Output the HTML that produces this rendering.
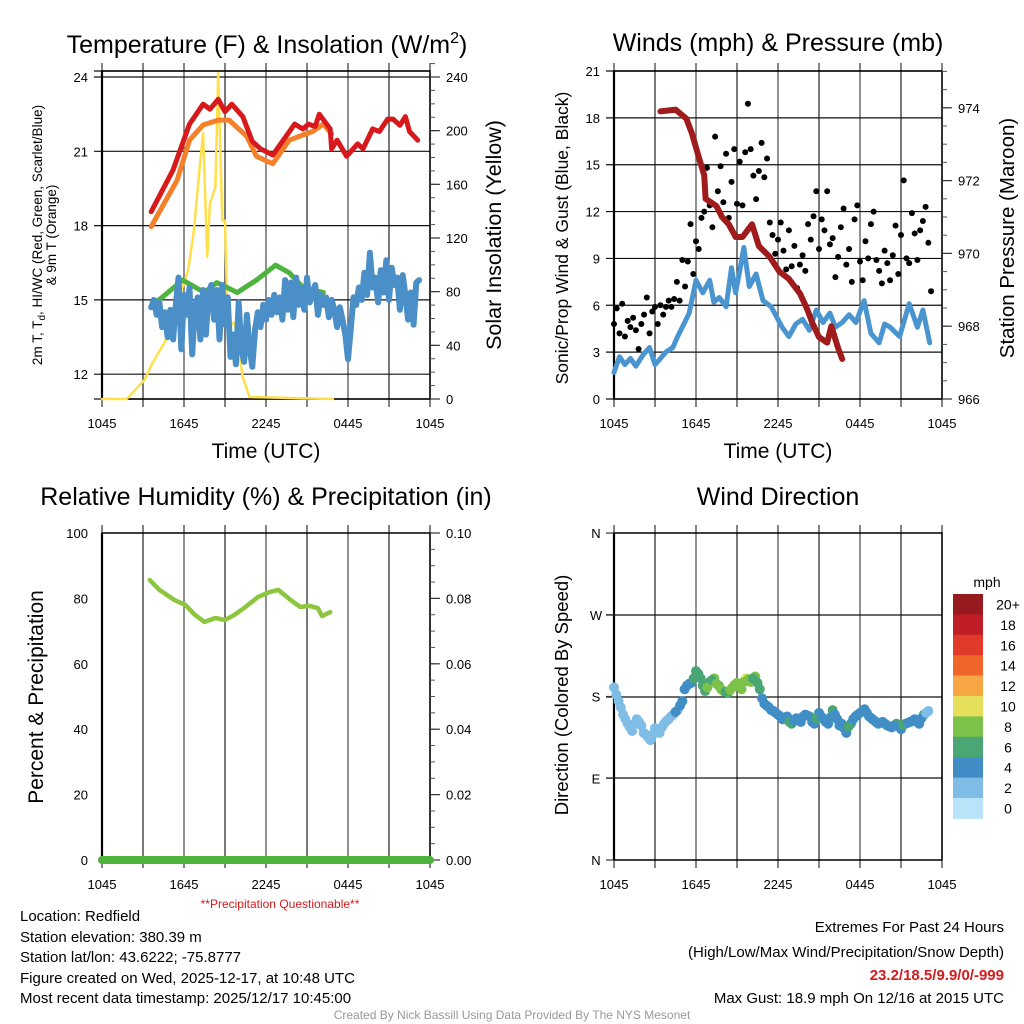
<!DOCTYPE html>
<html><head><meta charset="utf-8"><style>
html,body{margin:0;padding:0;background:#fff;}
svg{display:block;font-family:"Liberation Sans",Arial,sans-serif;}
</style></head><body>
<svg id="c" width="1024" height="1024" viewBox="0 0 1024 1024" xmlns="http://www.w3.org/2000/svg">
<rect width="1024" height="1024" fill="#fff"/>
<text x="267" y="53" font-size="25" text-anchor="middle">Temperature (F) &amp; Insolation (W/m<tspan dy="-10" font-size="16">2</tspan><tspan dy="10">)</tspan></text>
<text x="778" y="51" font-size="25" text-anchor="middle">Winds (mph) &amp; Pressure (mb)</text>
<text x="266" y="505" font-size="25" text-anchor="middle">Relative Humidity (%) &amp; Precipitation (in)</text>
<text x="778" y="505" font-size="25" text-anchor="middle">Wind Direction</text>
<text x="266" y="458" font-size="21" text-anchor="middle">Time (UTC)</text>
<text x="778" y="458" font-size="21" text-anchor="middle">Time (UTC)</text>
<text transform="translate(42,235) rotate(-90)" font-size="13.5" text-anchor="middle">2m T, T<tspan font-size="10" dy="3">d</tspan><tspan dy="-3">, HI/WC (Red, Green, Scarlet/Blue)</tspan></text>
<text transform="translate(56,235) rotate(-90)" font-size="13.5" text-anchor="middle">&amp; 9m T (Orange)</text>
<text transform="translate(501,235) rotate(-90)" font-size="21.5" text-anchor="middle">Solar Insolation (Yellow)</text>
<text transform="translate(568,238) rotate(-90)" font-size="17.5" text-anchor="middle">Sonic/Prop Wind &amp; Gust (Blue, Black)</text>
<text transform="translate(1014,238) rotate(-90)" font-size="20.5" text-anchor="middle">Station Pressure (Maroon)</text>
<text transform="translate(43,697) rotate(-90)" font-size="21" text-anchor="middle">Percent &amp; Precipitation</text>
<text transform="translate(568,695) rotate(-90)" font-size="18.5" text-anchor="middle">Direction (Colored By Speed)</text>
<text x="280" y="908" font-size="12" fill="#d7191c" text-anchor="middle">**Precipitation Questionable**</text>
<text x="987" y="587" font-size="14" text-anchor="middle">mph</text>
<g font-size="15">
<text x="20" y="921">Location: Redfield</text>
<text x="20" y="942">Station elevation: 380.39 m</text>
<text x="20" y="962">Station lat/lon: 43.6222; -75.8777</text>
<text x="20" y="983">Figure created on Wed, 2025-12-17, at 10:48 UTC</text>
<text x="20" y="1003">Most recent data timestamp: 2025/12/17 10:45:00</text>
</g>
<g font-size="15" text-anchor="end">
<text x="1004" y="932">Extremes For Past 24 Hours</text>
<text x="1004" y="957">(High/Low/Max Wind/Precipitation/Snow Depth)</text>
<text x="1004" y="980" fill="#d7191c" font-weight="bold">23.2/18.5/9.9/0/-999</text>
<text x="1004" y="1003">Max Gust: 18.9 mph On 12/16 at 2015 UTC</text>
</g>
<text x="512" y="1019" font-size="12" fill="#999" text-anchor="middle">Created By Nick Bassill Using Data Provided By The NYS Mesonet</text>
</svg>
<script>
// ---- data ----
const xTickLabels = ["1045","1645","2245","0445","1045"];
const tempTicks = [24,21,18,15,12];
const insolTicks = [240,200,160,120,80,40,0];
const windTicks = [21,18,15,12,9,6,3,0];
const presTicks = [974,972,970,968,966];
const rhTicks = [100,80,60,40,20,0];
const precipTicks = ["0.10","0.08","0.06","0.04","0.02","0.00"];
const dirTickLabels = ["N","W","S","E","N"];
const dirTickVals = [360,270,180,90,0];

const redT = [3.6,5.2,6.4,7.4,7.9,8.5,9.0,9.5,10.3,11.0,11.6,12.5,13.2,14.1,14.7,15.1,15.6,15.9,16.7,16.8,17.2,17.9,18.7,19.1,19.8,20.3,20.9,21.3,21.8,22.2,22.5,23.1];
const redV = [18.56,20.25,22.1,22.9,22.7,23.1,22.6,22.9,22.4,21.4,21.1,20.85,21.4,22.1,21.9,22.1,22.0,22.5,21.9,21.1,21.45,20.8,21.3,21.1,21.9,21.8,22.3,22.3,22.05,22.4,21.8,21.45];
const orangeT = [3.6,5.5,6.4,7.4,8.5,9.3,10.6,11.3,12.5,13.7,14.7,15.4,16.2,16.8];
const orangeV = [17.96,19.84,21.45,22.06,22.26,22.26,21.6,20.8,20.5,21.45,21.66,21.8,22.1,21.7];
const greenT = [3.65,4.4,5.9,7.5,8.4,9.9,11.3,12.7,13.7,14.7,16.2];
const greenV = [14.8,15.1,15.8,15.3,15.7,15.3,15.8,16.4,16.1,15.5,15.3];
const dewStart = 3.6, dewStep = 0.2;
const dewV = [14.7,15.0,14.4,14.9,13.9, 14.5,13.5,14.6,13.4,14.8, 15.9,13.0,15.2,14.4,15.5, 12.8,14.7,15.1,13.4,15.4, 13.6,15.3,15.6,14.2,15.4, 13.4,15.6,14.0,15.1,12.7, 13.6,12.4,14.9,13.0,12.5, 14.4,13.0,12.3,13.8,14.5, 13.9,14.8,14.2,15.0,14.4, 15.2,14.5,15.1,14.2,15.8, 14.6,15.7,14.3,15.9,14.8, 15.5,14.6,15.9,14.9,15.3, 15.6,14.4,15.2,14.8,15.1, 14.3,15.0,14.6,13.9,14.7, 14.2,13.6,12.6,13.8,15.1, 14.8,15.5,15.0,16.1,15.2, 16.9,15.5,15.9,14.9,16.2, 15.3,16.6,15.0,16.3,15.6, 15.9,14.6,16.0,15.2,14.2, 15.3,14.0,15.7,15.8];
const insolT = [0,1.8,3.1,3.7,4.8,5.6,6.3,6.7,7.2,7.4,7.7,7.9,8.3,8.5,8.8,9.0,9.2,9.7,10.3,10.8,16.9];
const insolV = [0,0,14,27,46,74,96,124,178,198,106,146,158,243,133,133,54,57,16,1.5,0];

const windT = [0,0.4,0.8,1.2,1.6,2.1,2.6,3.0,3.3,3.8,4.3,4.6,5.0,5.5,6.0,6.5,7.0,7.3,7.7,8.2,8.6,8.9,9.2,9.5,9.9,10.4,10.9,11.5,12.3,12.8,13.3,13.8,14.3,14.8,15.3,15.8,16.2,16.7,17.2,17.7,18.3,18.8,19.4,19.8,20.2,20.9,21.6,22.2,22.6,23.1];
const windV = [1.7,2.7,2.2,2.6,2.1,2.8,3.3,2.2,2.5,3.0,3.3,3.9,4.6,5.5,7.6,6.8,7.6,6.2,6.5,5.9,8.4,6.8,8.2,9.7,7.2,8.0,6.3,5.9,4.6,4.0,4.8,5.1,4.4,5.7,4.9,5.5,4.6,4.9,5.4,4.9,6.3,4.2,3.6,4.8,4.6,4.0,6.1,4.6,5.7,3.6];
const gustStart = 0, gustStep = 0.2;
const gustV = [4.8,5.8,4.2,6.1,4.0, 5.0,4.6,5.2,4.4,3.2, 4.8,5.4,6.5,4.2,5.6, 5.9,4.8,6.0,5.4,5.9, 6.3,5.9,6.4,7.5,6.3, 8.9,7.2,8.8,11.2,8.0, 10.1,9.6,11.6,12.0,14.8, 12.4,11.0,16.8,13.3,14.9, 12.6,15.7,11.6,13.9,16.0, 12.5,15.2,12.4,15.8,18.9, 16.0,14.3,12.8,14.6,16.4, 14.2,15.4,11.3,10.5,9.3, 10.2,11.3,9.5,8.3,10.8, 8.5,9.8,7.1,8.6,9.2, 8.2,11.2,10.2,11.7,13.3, 9.6,11.5,10.8,13.3,9.9, 10.3,7.8,9.1,11.0,12.2, 8.6,9.6,7.5,11.5,12.4, 8.8,7.6,10.1,9.0,11.2, 12.0,8.9,8.2,7.4,9.5, 8.7,7.6,9.2,11.1,8.0, 10.5,14.0,9.0,8.7,11.9, 10.6,8.9,10.8,11.4,12.3, 10.0,6.9];
const presT = [3.4,4.5,5.3,5.7,6.2,6.6,6.7,7.5,7.9,8.4,8.9,9.4,10.1,10.6,11.4,12.1,12.8,13.6,14.1,14.5,15.0,15.6,15.9,16.4,16.7];
const presV = [973.9,973.95,973.7,973.3,972.65,972.15,971.5,971.3,971.0,970.8,970.45,970.45,970.8,970.2,969.9,969.5,969.3,968.9,968.5,968.1,967.7,967.55,968.0,967.4,967.1];

const rhT = [3.5,4.2,5.3,6.1,6.8,7.5,8.3,9.0,9.7,10.5,11.4,12.3,12.9,13.8,14.5,15.2,15.8,16.1,16.7];
const rhV = [85.6,82.6,79.5,78,75,72.8,74,73.4,75,77.4,80.4,82,82.6,79.5,77.4,77.7,77,74.6,75.8];
const precipT = [0,24];
const precipV = [0,0];

const dirStart = 0, dirStep = 1/3;
const dirV = [190,175,160,150,142,155,148,138,132,145,140,150,155,160,165,175,192,195,208,200,186,196,200,192,186,184,190,195,188,200,196,202,188,172,168,164,160,155,158,150,156,152,160,158,150,162,155,150,165,155,150,140,150,158,162,166,158,154,150,152,148,146,150,144,150,152,155,150,160,164];
const speedV = [2.5,2.8,3,2.6,3.2,2.4,2.8,3,2.5,2.7,3.1,3.5,3.8,3.6,3.9, 4.5,4.8,5.2, 6.5,7,7.5,6.8,8.2,7.5,8.5,7.8,8.6,9,8.2,10.2,8.5,8.8,7.2, 5.5,4.8,5,4.5,5.2,4.6,6.2,5,4.6,4.8,6.4,4.5,5,5.2,4.4,6.1,4.7,4.9,4.5,5,4.8,6.3,4.6,5,4.4,4.5,4.8,5.2,4.6,6.6,4.5,4.7,5.1,4.4,4.9,6.2,3.5];
const dir2Start = 1/6, dir2Step = 1/3;
const dirV2 = [182,168,155,146,150,152,140,135,138,142,146,153,158,163,170,188,194,200,205,192,190,198,194,188,185,187,193,191,196,199,200,195,178,170,165,162,158,157,152,153,155,158,159,152,156,158,152,157,160,148,145,147,155,160,164,162,156,152,151,150,147,148,147,149,151,153,152,156,162];
const speedV2 = [2.6,3.0,2.7,2.9,3.3,2.5,2.9,2.4,2.8,3.2,3.4,3.7,3.9,4.2,4.4, 4.6,5.0,6.3, 7.2,6.6,8.4,7.8,9.1,8.0,7.4,8.9,9.5,8.3,8.7,9.2,7.6,6.8,5.8, 5.2,4.7,4.9,5.4,4.5,6.5,4.8,5.1,4.6,5.0,4.7,6.2,4.9,4.4,5.3,4.6,4.8,5.0,6.1,4.5,4.7,5.2,4.8,4.6,5.0,4.4,4.9,4.7,5.3,4.5,6.3,4.6,4.8,4.4,5.0,3.8];
const cbLabels = ["20+","18","16","14","12","10","8","6","4","2","0"];
const cbColors = ["#971b1e","#bf1e26","#df3a2a","#f0652a","#f6a744","#e6df5c","#7cc24a","#4aa774","#418ec6","#7fbde6","#b8e3f8"];

// ---- drawing ----
const svg = document.getElementById('c');
const NS = 'http://www.w3.org/2000/svg';
function mk(tag, attrs, parent){ const e=document.createElementNS(NS,tag); for(const k in attrs) e.setAttribute(k,attrs[k]); (parent||svg).appendChild(e); return e; }
function txt(x,y,s,size,anchor,parent){ const t=mk('text',{x:x,y:y,'font-size':size,'text-anchor':anchor},parent); t.textContent=s; return t; }

function xScale(x0,x1){ return h => x0 + h*(x1-x0)/24; }
const PA = {x0:102,x1:430,top:71,bot:399};
const PB = {x0:614,x1:942,top:71,bot:399};
const PC = {x0:102,x1:430,top:533,bot:860};
const PD = {x0:614,x1:942,top:533,bot:860};
const xA = xScale(PA.x0,PA.x1), xB = xScale(PB.x0,PB.x1), xC = xScale(PC.x0,PC.x1), xD = xScale(PD.x0,PD.x1);
const yT = t => 77 + (24-t)*74.3/3;
const yI = i => 399 - i*322/240;
const yW = v => 399 - v*(328/21);
const yP = p => 399 - (p-966)*36.4;
const yR = r => 860 - r*3.27;
const yPr = p => 860 - p*3270;
const yD = d => 860 - d*327/360;

function frame(P, xs, name, hgrid){
  const g = mk('g',{});
  
  
  for(let i=0;i<=8;i++){
    const x = xs(i*3);
    const l = mk('line',{x1:x,y1:P.top,x2:x,y2:P.bot,stroke:(i%2? '#333':'#555'),'stroke-width':1.3},g);
    
    
    mk('line',{x1:x,y1:P.bot,x2:x,y2:P.bot+8,stroke:'#333','stroke-width':1.2},g);
    mk('line',{x1:x,y1:P.top,x2:x,y2:P.top-8,stroke:'#333','stroke-width':1.2},g);
  }
  hgrid.forEach(y=>{
    const l = mk('line',{x1:P.x0-8,y1:y,x2:P.x1,y2:y,stroke:'#111','stroke-width':1.2},g);
    
    
  });
  mk('rect',{x:P.x0,y:P.top,width:P.x1-P.x0,height:P.bot-P.top,fill:'none',stroke:'#000','stroke-width':1.5},g);
  mk('line',{x1:P.x0,y1:P.top,x2:P.x0,y2:P.bot,stroke:'#000','stroke-width':2.2},g);
  xTickLabels.forEach((s,i)=>{
    const t = txt(xs(i*6), P.bot+29, s, 13, 'middle', g);
    
    
  });
  return g;
}
function leftTicks(vals, ys, P, fmt, name){
  vals.forEach(v=>{
    const t = txt(P.x0-14, ys(v)+5, fmt(v), 13, 'end');
    
    
  });
}
function rightTicks(vals, ys, P, fmt, name, minorVals){
  minorVals.forEach(v=>{ mk('line',{x1:P.x1,y1:ys(v),x2:P.x1+5,y2:ys(v),stroke:'#555','stroke-width':1}); });
  vals.forEach(v=>{
    mk('line',{x1:P.x1,y1:ys(v),x2:P.x1+10,y2:ys(v),stroke:'#333','stroke-width':1.2});
    const t = txt(P.x1+16, ys(v)+5, fmt(v), 13, 'start');
    
    
  });
}
function path(ts, vs, xs, ys, color, w, name){
  let d=''; ts.forEach((t,i)=>{ d += (i?'L':'M')+xs(t).toFixed(1)+' '+ys(vs[i]).toFixed(1); });
  const p = mk('path',{d:d,fill:'none',stroke:color,'stroke-width':w,'stroke-linejoin':'round','stroke-linecap':'round'});
  
  
  return p;
}

// Panel A
frame(PA, xA, 'temp', [PA.top].concat(tempTicks.map(yT)).concat([PA.bot]));
leftTicks(tempTicks, yT, PA, v=>v, 'temp-y');
const insMinor=[]; for(let v=0; v<=250; v+=10) insMinor.push(v);
rightTicks(insolTicks, yI, PA, v=>v, 'insolation-y', insMinor);
path(insolT, insolV, xA, yI, '#ffe04a', 2.5, 'insolation-line');
path(greenT, greenV, xA, yT, '#4db33d', 5, 'heat-index-line');
const dewT = dewV.map((v,i)=>dewStart + i*dewStep);
path(dewT, dewV, xA, yT, '#4a8fc8', 6, 'dewpoint-line');
path(orangeT, orangeV, xA, yT, '#f4802a', 5, 'temp-9m-line');
path(redT, redV, xA, yT, '#d7191c', 5, 'temp-2m-line');

// Panel B
frame(PB, xB, 'wind', windTicks.map(yW));
leftTicks(windTicks, yW, PB, v=>v, 'wind-y');
const pMinor=[]; for(let p=966; p<=975; p+=0.5) pMinor.push(p);
rightTicks(presTicks, yP, PB, v=>v, 'pressure-y', pMinor);
path(windT, windV, xB, yW, '#4a95d0', 5, 'sonic-wind-line');
gustV.forEach((v,i)=>{
  const c = mk('circle',{cx:xB(gustStart+i*gustStep),cy:yW(v),r:3,fill:'#000'});
  
  
});
path(presT, presV, xB, yP, '#a01c1c', 6, 'pressure-line');

// Panel C
frame(PC, xC, 'rh', []);
leftTicks(rhTicks, yR, PC, v=>v, 'rh-y');
const prMinor=[]; for(let i=0;i<=20;i++) prMinor.push(i*0.005);
rightTicks([0.10,0.08,0.06,0.04,0.02,0.00], yPr, PC, v=>precipTicks[5-Math.round(v*50)], 'precip-y', prMinor);
path(precipT, precipV, xC, yPr, '#4db33d', 8, 'precip-line');
path(rhT, rhV, xC, yR, '#8cc63f', 4.5, 'rh-line');

// Panel D
frame(PD, xD, 'wdir', [615,697,778]);
dirTickVals.forEach((v,i)=>{
  mk('line',{x1:PD.x0-8,y1:yD(v),x2:PD.x0,y2:yD(v),stroke:'#333','stroke-width':1.2});
  const t = txt(PD.x0-18, yD(v)+5, dirTickLabels[i], 13, 'middle');
  
  
});
function dirDots(vals, spd, start, step){
  vals.forEach((d,i)=>{
    const idx = Math.max(0, 10 - Math.min(10, Math.floor(spd[i]/2)));
    const c = mk('circle',{cx:xD(start+i*step),cy:yD(d),r:5,fill:cbColors[idx]});
    
    
  });
}
dirDots(dirV, speedV, dirStart, dirStep);
dirDots(dirV2, speedV2, dir2Start, dir2Step);
// colorbar
cbLabels.forEach((s,i)=>{
  const y = 594 + i*20.4;
  const r = mk('rect',{x:953,y:y,width:30,height:20.9,fill:cbColors[i]});
  
  
  const t = txt(1008, y+15.5, s, 14, 'middle');
  
  
});
</script>
</body></html>
